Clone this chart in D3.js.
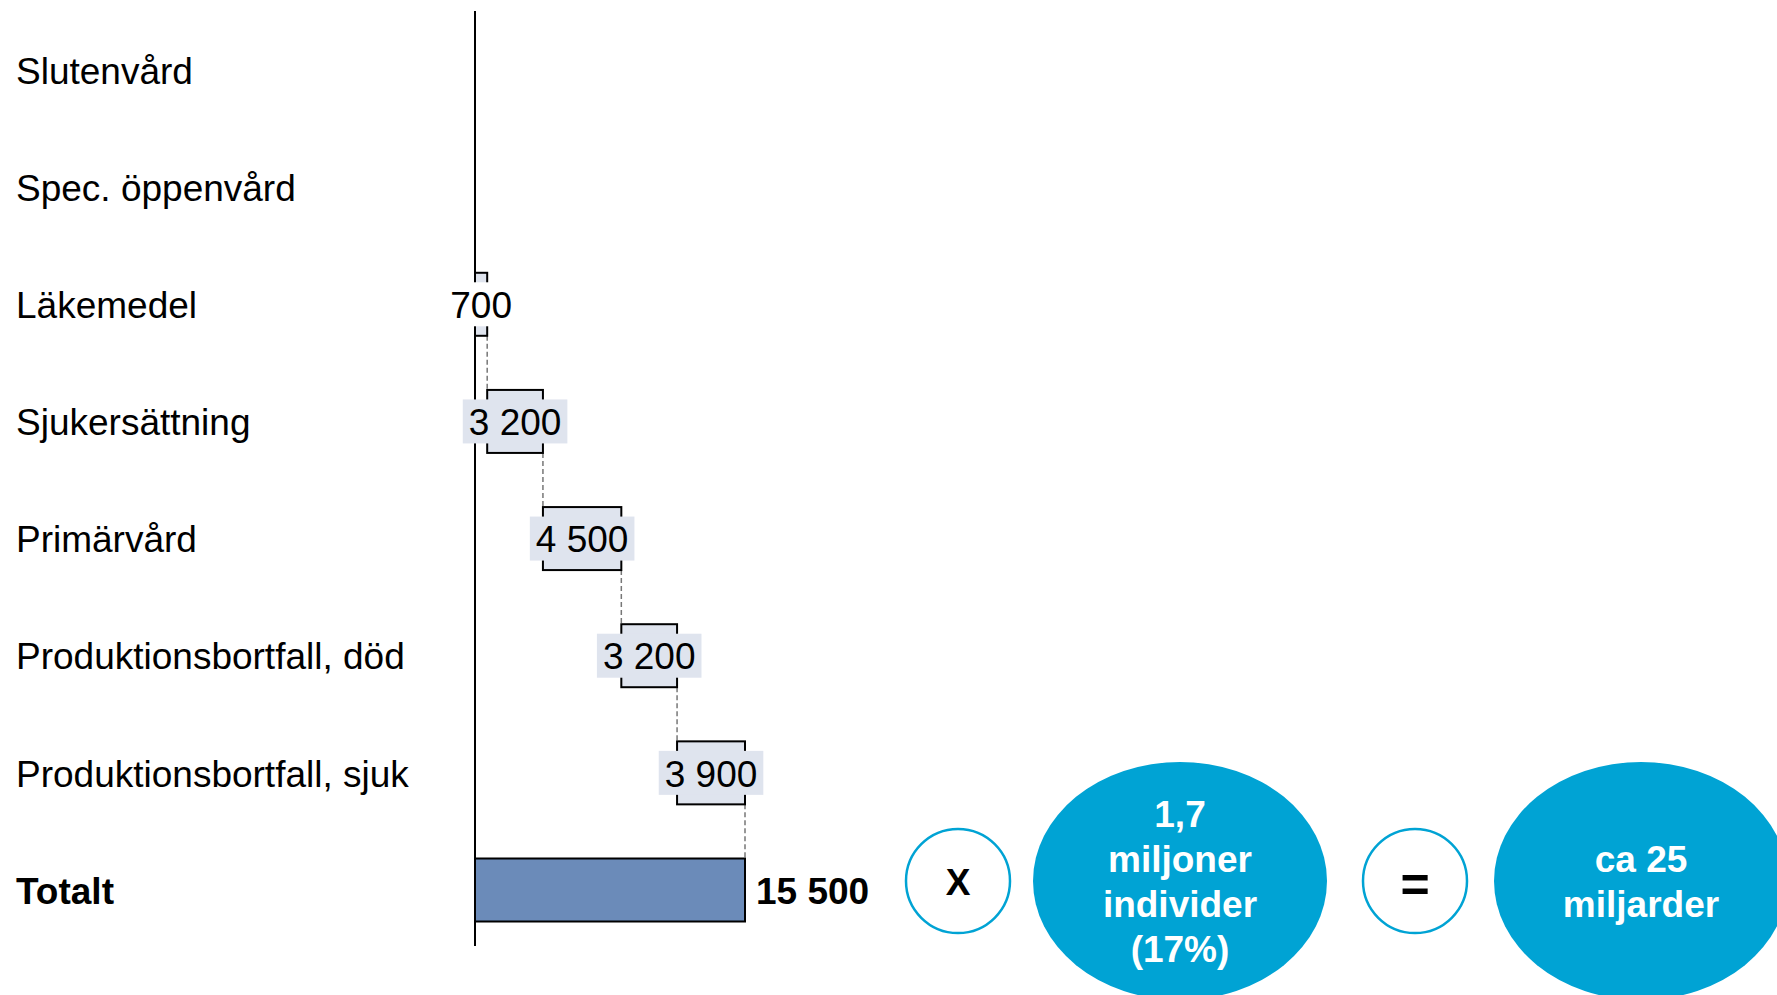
<!DOCTYPE html>
<html>
<head>
<meta charset="utf-8">
<script src="https://cdn.jsdelivr.net/npm/d3@7"></script>
<style>
  body { margin: 0; background: #fff; }
  svg text { font-family: "Liberation Sans", Arial, sans-serif; }
</style>
</head>
<body>
<div id="chart"></div>
<script>
// data
const categories = ["Slutenvård", "Spec. öppenvård", "Läkemedel", "Sjukersättning",
  "Primärvård", "Produktionsbortfall, död", "Produktionsbortfall, sjuk", "Totalt"];
const values = [null, null, 700, 3200, 4500, 3200, 3900, 15500];
const valueLabels = ["", "", "700", "3 200", "4 500", "3 200", "3 900", "15 500"];
const multiplierText = ["1,7", "miljoner", "individer", "(17%)"];
const resultText = ["ca 25", "miljarder"];

const width = 1777, height = 995;
const barH = 63, fontSize = 37;

const svg = d3.select('#chart')
    .append('svg')
    .attr('width', width)
    .attr('height', height);

const x = d3.scaleLinear()
    .domain([0, 15500])
    .range([475, 745]);

const y = d3.scalePoint()
    .domain(categories)
    .range([70, 890]);

// running start/end for the waterfall
let cum = 0;
const rows = categories.map((c, i) => {
    const v = values[i];
    const isTotal = c === "Totalt";
    let r = {cat: c, value: v, label: valueLabels[i], total: isTotal};
    if (v == null) return r;
    if (isTotal) { r.x0 = 0; r.x1 = v; }
    else { r.x0 = cum; r.x1 = cum + v; cum += v; }
    return r;
});
const bars = rows.filter(d => d.value != null);

// category labels
svg.selectAll('.cat')
    .data(rows)
    .enter()
    .append('text')
    .attr('class', 'cat')
    .attr('x', 16)
    .attr('y', d => y(d.cat))
    .attr('dy', '0.37em')
    .attr('font-size', fontSize)
    .attr('font-weight', d => d.total ? 'bold' : 'normal')
    .text(d => d.cat);

// connectors
const conn = [];
for (let i = 0; i < bars.length - 1; i++) {
    conn.push({x: bars[i].x1, y1: y(bars[i].cat) + barH / 2, y2: y(bars[i + 1].cat) - barH / 2});
}
svg.selectAll('.conn')
    .data(conn)
    .enter()
    .append('line')
    .attr('x1', d => x(d.x))
    .attr('x2', d => x(d.x))
    .attr('y1', d => d.y1)
    .attr('y2', d => d.y2)
    .attr('stroke', '#777')
    .attr('stroke-width', 1.5)
    .attr('stroke-dasharray', '5,3');

// bars
svg.selectAll('.bar')
    .data(bars)
    .enter()
    .append('rect')
    .attr('x', d => x(d.x0))
    .attr('y', d => y(d.cat) - barH / 2)
    .attr('width', d => x(d.x1) - x(d.x0))
    .attr('height', barH)
    .attr('fill', d => d.total ? '#6b8bb9' : '#dfe4ee')
    .attr('stroke', '#000')
    .attr('stroke-width', 2);

// axis line
svg.append('line')
    .attr('x1', x(0)).attr('x2', x(0))
    .attr('y1', 11).attr('y2', 946)
    .attr('stroke', '#000')
    .attr('stroke-width', 2);

// value labels of the floating bars, with a background box
const floating = bars.filter(d => !d.total);
const lab = svg.selectAll('.lab')
    .data(floating)
    .enter()
    .append('g')
    .attr('transform', d => 'translate(' + (x(d.x0) + x(d.x1)) / 2 + ',' + y(d.cat) + ')');

lab.append('text')
    .attr('text-anchor', 'middle')
    .attr('dy', '0.37em')
    .attr('font-size', fontSize)
    .text(d => d.label)
    .each(function(d) { d.tw = this.getComputedTextLength(); });

lab.insert('rect', 'text')
    .attr('x', d => -d.tw / 2 - 6)
    .attr('y', -22)
    .attr('width', d => d.tw + 12)
    .attr('height', 44)
    .attr('fill', d => d.value < 1000 ? '#fff' : '#dfe4ee');

// total label
const tot = bars.find(d => d.total);
svg.append('text')
    .attr('x', x(tot.x1) + 11)
    .attr('y', y(tot.cat))
    .attr('dy', '0.37em')
    .attr('font-size', fontSize)
    .attr('font-weight', 'bold')
    .text(tot.label);

// formula: X (1,7 miljoner) = (ca 25 miljarder)
const cy = 881, blue = '#00a3d4';
const ops = [{cx: 958, t: 'X', fs: 37, dy: '0.37em'}, {cx: 1415, t: '=', fs: 50, dy: '0.42em'}];
svg.selectAll('.op')
    .data(ops)
    .enter()
    .append('circle')
    .attr('cx', d => d.cx)
    .attr('cy', cy)
    .attr('r', 52)
    .attr('fill', '#fff')
    .attr('stroke', blue)
    .attr('stroke-width', 2.5);
svg.selectAll('.optext')
    .data(ops)
    .enter()
    .append('text')
    .attr('x', d => d.cx)
    .attr('y', cy)
    .attr('dy', d => d.dy)
    .attr('text-anchor', 'middle')
    .attr('font-size', d => d.fs)
    .attr('font-weight', 'bold')
    .text(d => d.t);

const bubbles = [{cx: 1180, lines: multiplierText}, {cx: 1641, lines: resultText}];
bubbles.forEach(b => {
    svg.append('ellipse')
        .attr('cx', b.cx).attr('cy', cy)
        .attr('rx', 147).attr('ry', 119)
        .attr('fill', blue);
    const n = b.lines.length;
    svg.selectAll(null)
        .data(b.lines)
        .enter()
        .append('text')
        .attr('x', b.cx)
        .attr('y', (d, i) => cy + (i - (n - 1) / 2) * 45)
        .attr('dy', '0.37em')
        .attr('text-anchor', 'middle')
        .attr('font-size', fontSize)
        .attr('font-weight', 'bold')
        .attr('fill', '#fff')
        .text(d => d);
});
</script>
</body>
</html>
